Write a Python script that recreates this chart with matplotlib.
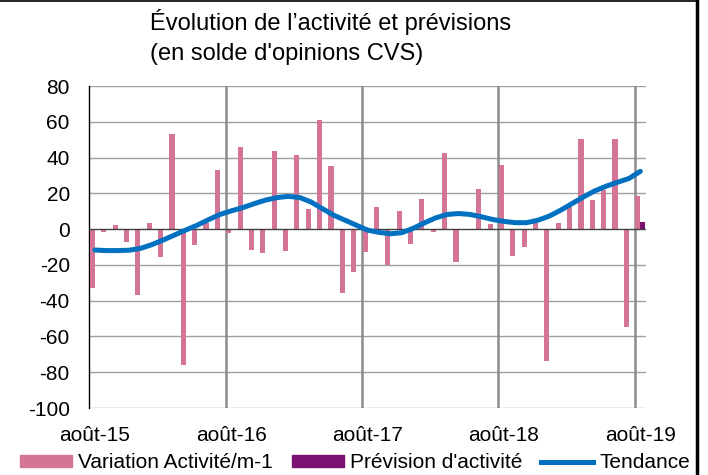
import numpy as np
import matplotlib
matplotlib.use("Agg")
import matplotlib.pyplot as plt
from matplotlib.patches import Patch
from matplotlib.lines import Line2D

plt.rcParams['font.family'] = ['Liberation Sans', 'DejaVu Sans']

months = ["août-15", "sept-15", "oct-15", "nov-15", "déc-15", "janv-16", "févr-16", "mars-16",
          "avr-16", "mai-16", "juin-16", "juil-16", "août-16", "sept-16", "oct-16", "nov-16",
          "déc-16", "janv-17", "févr-17", "mars-17", "avr-17", "mai-17", "juin-17", "juil-17",
          "août-17", "sept-17", "oct-17", "nov-17", "déc-17", "janv-18", "févr-18", "mars-18",
          "avr-18", "mai-18", "juin-18", "juil-18", "août-18", "sept-18", "oct-18", "nov-18",
          "déc-18", "janv-19", "févr-19", "mars-19", "avr-19", "mai-19", "juin-19", "juil-19",
          "août-19"]

variation = [-33, -1.5, 2.2, -7.4, -36.8, 3.5, -15.4, 53.4, -75.9, -8.9, 3.5, 32.9,
             -2, 46, -11.7, -13.4, 43.7, -12.1, 41.3, 11, 60.8, 35.5, -35.9, -24.2,
             -12.7, 12.5, -20.1, 9.9, -8.6, 17.1, -1.7, 42.4, -18.6, 0, 22.3, 2.8,
             35.7, -15.1, -9.9, 3.5, -73.5, 3.5, 12.5, 50.6, 16.2, 21.8, 50.2, -54.5,
             18.4]

tendance = [-11.7, -12, -12, -11.8, -10.8, -8.7, -6.1, -3.3, -0.5, 2.2, 5.3, 8.2,
            10.2, 12, 14.2, 16.2, 17.6, 18.3, 17.7, 15.2, 11.5, 7.8, 5, 2.2,
            -0.6, -1.8, -2.6, -2, 0.4, 3.5, 6.3, 8.2, 8.7, 8.2, 6.9, 5.4,
            4.3, 3.6, 3.6, 5, 7.3, 10.6, 14.3, 18, 21.4, 24, 26.2, 28.3,
            32.3]

prevision_month = "août-19"
prevision_value = 3.9

tick_labels = ["août-15", "août-16", "août-17", "août-18", "août-19"]
yticks = [80, 60, 40, 20, 0, -20, -40, -60, -80, -100]

pink = "#D47597"
purple = "#7B1170"
blue = "#0070C0"

W, H = 708, 475
fig = plt.figure(figsize=(W / 100, H / 100), dpi=100)
ax = fig.add_axes([89.3 / W, 1 - 408 / H, (646 - 89.3) / W, (408 - 86) / H])

x = np.arange(len(months))
bw = 0.45
ax.bar(x - bw / 2, variation, width=bw, color=pink, zorder=3)
pi = months.index(prevision_month)
ax.bar([pi + bw / 2], [prevision_value], width=bw, color=purple, zorder=3)
ax.plot(x, tendance, color=blue, lw=3.6, solid_capstyle='round', solid_joinstyle='round', zorder=4)

ax.set_xlim(-0.5, len(months) - 0.5)
ax.set_ylim(-100, 80)
ax.set_yticks(yticks)
ax.set_yticklabels([str(v) for v in yticks], fontsize=15)
tpos = [months.index(t) for t in tick_labels]
ax.set_xticks(tpos)
ax.set_xticklabels(tick_labels, fontsize=15)
ax.tick_params(axis='y', length=0, pad=14)
ax.tick_params(axis='x', length=0, pad=13)

for y in yticks:
    if y != 0:
        ax.axhline(y, color="#A0A0A0", lw=1.0, zorder=1)
ax.axhline(0, color="#404040", lw=1.0, zorder=3.5)
for t in tpos[1:]:
    ax.axvline(t - 0.5, color="#8C8C8C", lw=1.8, zorder=1)

for s in ['top', 'right', 'bottom']:
    ax.spines[s].set_visible(False)
ax.spines['left'].set_color("black")
ax.spines['left'].set_linewidth(1.0)

fig.text(150 / W, 1 - 30 / H, "Évolution de l’activité et prévisions", fontsize=17, va='baseline', ha='left')
fig.text(150 / W, 1 - 60 / H, "(en solde d'opinions CVS)", fontsize=17, va='baseline', ha='left')

handles = [Patch(color=pink), Patch(color=purple), Line2D([], [], color=blue, lw=3.6)]
labels = ["Variation Activité/m-1", "Prévision d'activité", "Tendance"]
fig.legend(handles, labels, loc='center', bbox_to_anchor=(355 / W, 1 - 463 / H), ncol=3,
           frameon=False, fontsize=15, handlelength=2.5, handleheight=0.5, handletextpad=0.3,
           columnspacing=0.9, borderpad=0, borderaxespad=0)

fig.add_artist(Line2D([0, 697 / W], [1 - 0.5 / H, 1 - 0.5 / H], color='black', lw=1.2, transform=fig.transFigure))
fig.add_artist(Line2D([696.5 / W, 696.5 / W], [0, 1], color='black', lw=2.5, transform=fig.transFigure))

fig.savefig("out.png", dpi=100)
